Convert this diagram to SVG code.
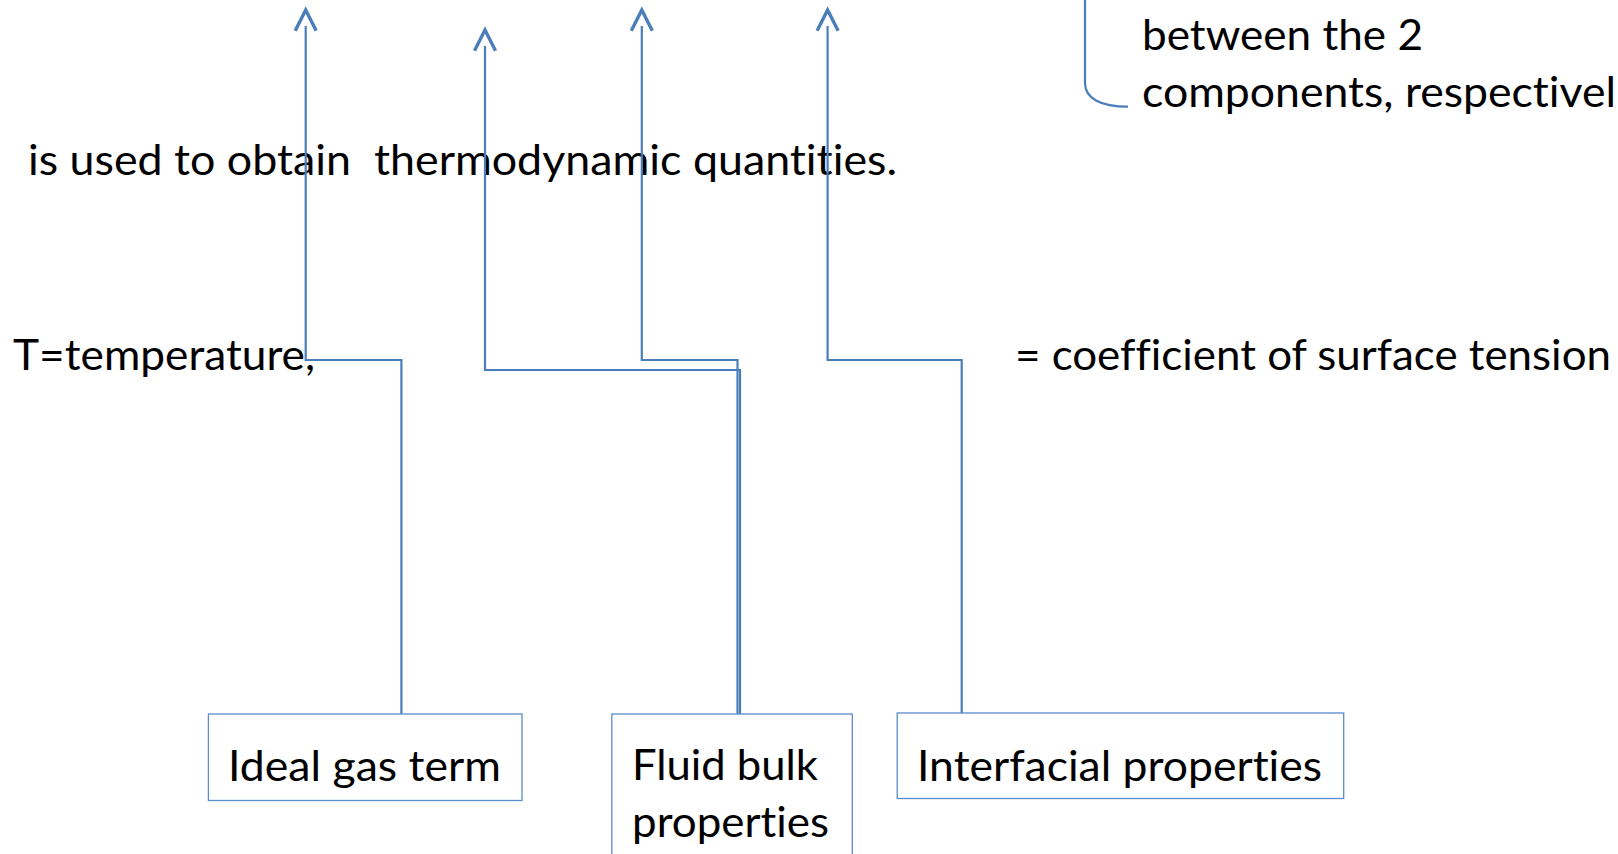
<svg xmlns="http://www.w3.org/2000/svg" width="1618" height="854" viewBox="0 0 1618 854">
<style>
text{font-family:Lato,"Open Sans","Liberation Sans",sans-serif;font-size:43px;fill:#000;white-space:pre;font-variant-ligatures:none;font-feature-settings:"liga" 0,"clig" 0}
.box{fill:#fff;stroke:#5b8bcf;stroke-width:1.3}
.conn{fill:none;stroke:#4a7ebb;stroke-width:2.2}
.head{fill:none;stroke:#4a7ebb;stroke-width:3.4;stroke-linejoin:miter}
</style>
<rect width="1618" height="854" fill="#fff"/>
<g id="texts">
<text x="1142" y="50" textLength="281" lengthAdjust="spacingAndGlyphs">between the 2</text>
<text x="1142" y="107" textLength="474" lengthAdjust="spacingAndGlyphs">components, respectivel</text>
<text x="28" y="175" textLength="869" lengthAdjust="spacingAndGlyphs">is used to obtain  thermodynamic quantities.</text>
<text x="13" y="370" textLength="302" lengthAdjust="spacingAndGlyphs">T=temperature,</text>
<text x="1015" y="370" textLength="596" lengthAdjust="spacingAndGlyphs">= coefficient of surface tension</text>
</g>
<g id="bracket">
<path class="conn" d="M1085,0 V83 C1085,98 1100,106.7 1128,106.7"/>
</g>
<g id="connectors">
<path class="conn" d="M401.4,714 V360 H305.7 V26"/>
<path class="head" d="M295.2,30.7 L305.7,10 L316.2,30.7"/>
<path class="conn" d="M740,714 V370 H485 V46"/>
<path class="head" d="M474.5,50.7 L485,30 L495.5,50.7"/>
<path class="conn" d="M737.5,714 V360 H641.8 V26"/>
<path class="head" d="M631.3,30.7 L641.8,10 L652.3,30.7"/>
<path class="conn" d="M961.7,713 V360 H827.6 V26"/>
<path class="head" d="M817.1,30.7 L827.6,10 L838.1,30.7"/>
</g>
<g id="node-ideal">
<rect class="box" x="208.4" y="714" width="313.6" height="86.5"/>
<text x="228" y="781" textLength="273" lengthAdjust="spacingAndGlyphs">Ideal gas term</text>
</g>
<g id="node-fluid">
<rect class="box" x="611.8" y="714" width="240.5" height="160"/>
<text x="632" y="780" textLength="186" lengthAdjust="spacingAndGlyphs">Fluid bulk</text>
<text x="632" y="837" textLength="197" lengthAdjust="spacingAndGlyphs">properties</text>
</g>
<g id="node-interfacial">
<rect class="box" x="897.2" y="713" width="446.5" height="85.5"/>
<text x="917" y="781" textLength="405" lengthAdjust="spacingAndGlyphs">Interfacial properties</text>
</g>
</svg>
